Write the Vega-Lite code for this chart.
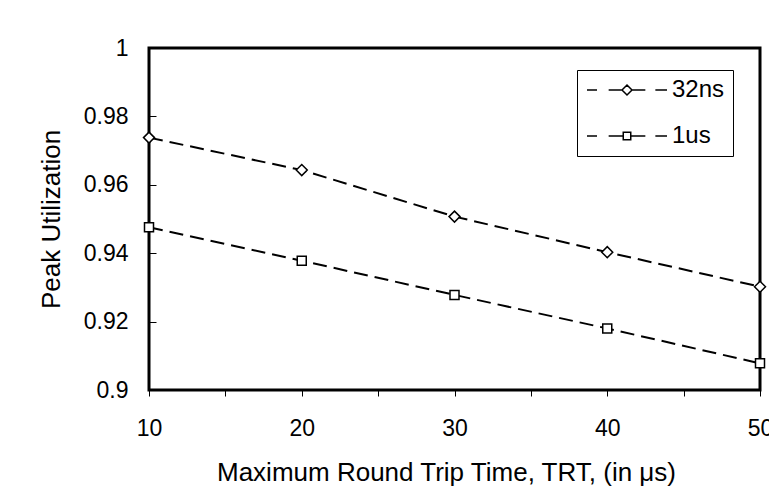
{
  "$schema": "https://vega.github.io/schema/vega-lite/v6.json",
  "width": 611,
  "height": 342,
  "autosize": {"type": "none"},
  "padding": {"left": 149, "top": 48, "right": 9, "bottom": 112},
  "background": "white",
  "config": {
    "font": "Liberation Sans",
    "view": {"stroke": "black", "strokeWidth": 3},
    "axis": {
      "grid": false,
      "domain": false,
      "labelColor": "black",
      "titleColor": "black",
      "labelFont": "Liberation Sans",
      "titleFont": "Liberation Sans",
      "titleFontWeight": "normal",
      "tickColor": "black",
      "tickWidth": 1
    }
  },
  "data": {
    "values": [
      {"trt": 10, "series": "32ns", "util": 0.9738},
      {"trt": 20, "series": "32ns", "util": 0.9643},
      {"trt": 30, "series": "32ns", "util": 0.9507},
      {"trt": 40, "series": "32ns", "util": 0.9403},
      {"trt": 50, "series": "32ns", "util": 0.9302},
      {"trt": 10, "series": "1us", "util": 0.9476},
      {"trt": 20, "series": "1us", "util": 0.9378},
      {"trt": 30, "series": "1us", "util": 0.9278},
      {"trt": 40, "series": "1us", "util": 0.918},
      {"trt": 50, "series": "1us", "util": 0.9078}
    ]
  },
  "encoding": {
    "x": {
      "field": "trt",
      "type": "quantitative",
      "scale": {"domain": [10, 50], "nice": false, "zero": false},
      "axis": {
        "values": [10, 15, 20, 25, 30, 35, 40, 45, 50],
        "labelExpr": "datum.value % 10 === 0 ? datum.label : ''",
        "labelFlush": false,
        "labelOverlap": false,
        "labelFontSize": 23,
        "labelPadding": 21,
        "tickSize": 6,
        "title": "Maximum Round Trip Time, TRT, (in μs)",
        "titleFontSize": 26,
        "titlePadding": 19,
        "titleX": 297
      }
    },
    "y": {
      "field": "util",
      "type": "quantitative",
      "scale": {"domain": [0.9, 1], "nice": false, "zero": false},
      "axis": {
        "values": [0.9, 0.92, 0.94, 0.96, 0.98, 1],
        "format": ".2~f",
        "labelFontSize": 23,
        "labelPadding": 28,
        "tickSize": -7,
        "title": "Peak Utilization",
        "titleFontSize": 26,
        "titlePadding": 19
      }
    }
  },
  "layer": [
    {
      "mark": {"type": "line", "color": "black", "strokeWidth": 2, "strokeDash": [14, 7]},
      "encoding": {"detail": {"field": "series", "type": "nominal"}}
    },
    {
      "mark": {"type": "point", "filled": true, "fill": "white", "stroke": "black", "strokeWidth": 1.5, "size": 100, "opacity": 1},
      "encoding": {
        "shape": {
          "field": "series",
          "type": "nominal",
          "scale": {"domain": ["32ns", "1us"], "range": ["M-1.1,0L0,-1.1L1.1,0L0,1.1Z", "M-0.9,-0.9H0.9V0.9H-0.9Z"]},
          "legend": null
        }
      }
    },
    {
      "transform": [{"filter": "false"}],
      "mark": {"type": "point", "filled": false, "color": "black", "strokeWidth": 1.5, "size": 100, "opacity": 1},
      "encoding": {
        "shape": {
          "field": "series",
          "type": "nominal",
          "scale": {
            "domain": ["32ns", "1us"],
            "range": [
              "M-8,0H-6M-3.67,0H-1M-1,0L0,-1L1,0L0,1ZM1,0H3.67M5.67,0H8",
              "M-8,0H-6M-3.67,0H-0.75M-0.75,-0.75H0.75V0.75H-0.75ZM0.75,0H3.67M5.67,0H8"
            ]
          },
          "legend": {
            "title": null,
            "orient": "none",
            "legendX": 428,
            "legendY": 22,
            "padding": 8,
            "strokeColor": "black",
            "fillColor": "white",
            "cornerRadius": 0,
            "labelFontSize": 24,
            "labelFont": "Liberation Sans",
            "labelColor": "black",
            "labelOffset": 33,
            "symbolOffset": 30,
            "symbolSize": 100,
            "symbolOpacity": 1,
            "symbolStrokeWidth": 1.5,
            "symbolStrokeColor": "black",
            "rowPadding": 22
          }
        }
      }
    }
  ],
  "resolve": {"scale": {"shape": "independent"}}
}
